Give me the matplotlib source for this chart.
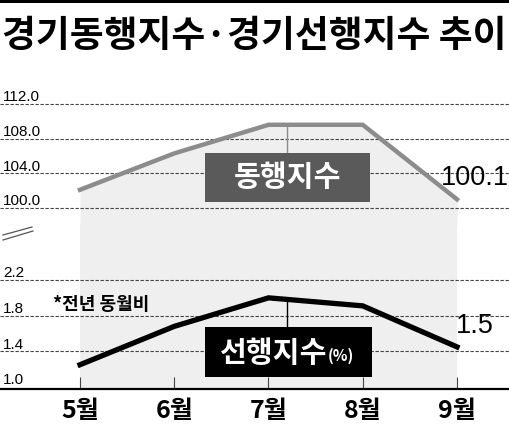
import numpy as np
import matplotlib
matplotlib.use("Agg")
import matplotlib.pyplot as plt
from matplotlib.patches import Rectangle
from matplotlib.lines import Line2D

# 데이터
months = ['5월', '6월', '7월', '8월', '9월']
coincident = [102.1, 106.3, 109.6, 109.6, 101.0]   # 경기동행지수
leading = [1.25, 1.68, 2.0, 1.91, 1.45]             # 경기선행지수(전년 동월비, %)
top_ticks = [100.0, 104.0, 108.0, 112.0]
bottom_ticks = [1.0, 1.4, 1.8, 2.2]
end_labels = ['100.1', '1.5']

W, H = 510, 428
KR = ['Noto Sans CJK KR', 'DejaVu Sans']
NUM = ['Liberation Sans', 'DejaVu Sans']
GRAY = '#8c8c8c'
BOXGRAY = '#5a5a5a'
FILL = '#efefef'


def fx(x):
    return x / W


def fy(y):
    return 1 - y / H


fig = plt.figure(figsize=(W / 100, H / 100), dpi=100)
fig.patch.set_facecolor('white')

x = np.arange(len(months))
xlim = (-80 / 94.25, (W - 80) / 94.25)

ax1 = fig.add_axes([0, fy(225.3), 1, 134.3 / H])
ax2 = fig.add_axes([0, fy(389), 1, (389 - 225.3) / H])
for ax in (ax1, ax2):
    ax.set_facecolor('none')
    ax.set_xlim(*xlim)
    for s in ax.spines.values():
        s.set_visible(False)
    ax.set_yticks([])
ax1.set_xticks([])

ax1.set_ylim(98, 113.5)
ax2.set_ylim(0.978, 0.978 + (389 - 225.3) / 89.2)

# 배경 음영
ax1.fill_between(x, coincident, 98, color=FILL, lw=0, zorder=0)
ax2.axvspan(x[0], x[-1], color=FILL, lw=0, zorder=0)

# 점선 눈금선과 값
for v in top_ticks:
    ax1.axhline(v, color='#444444', lw=0.8, ls=(0, (3, 1.5)), zorder=1)
    ax1.annotate(f'{v:.1f}', (0.006, v), xycoords=ax1.get_yaxis_transform(),
                 xytext=(0, 2), textcoords='offset points', va='baseline',
                 ha='left', fontsize=11, family=NUM, color='black')
for v in bottom_ticks:
    if v > 1.0:
        ax2.axhline(v, color='#444444', lw=0.8, ls=(0, (3, 1.5)), zorder=1)
    ax2.annotate(f'{v:.1f}', (0.006, v), xycoords=ax2.get_yaxis_transform(),
                 xytext=(0, 2), textcoords='offset points', va='baseline',
                 ha='left', fontsize=11, family=NUM, color='black')

# 선
ax1.plot(x, coincident, color=GRAY, lw=3.2, solid_joinstyle='miter', zorder=3)
ax2.plot(x, leading, color='black', lw=3.8, solid_joinstyle='miter', zorder=3)

# 상자 연결선
ax1.vlines(2.2, 106.35, np.interp(2.2, x, coincident), color=GRAY, lw=1, zorder=2)
ax2.vlines(2.2, 1.67, np.interp(2.2, x, leading), color='black', lw=1, zorder=2)

# x축
ax2.spines['bottom'].set_visible(True)
ax2.spines['bottom'].set_linewidth(1.6)
ax2.spines['bottom'].set_color('black')
ax2.set_xticks(x)
ax2.set_xticklabels(months, family=KR, fontsize=18, fontweight='bold')
ax2.tick_params(axis='x', direction='in', length=9, width=0.8, color='#444444', pad=7)

# 상단 굵은 선과 제목
fig.add_artist(Rectangle((0, fy(3)), 1, 3 / H, transform=fig.transFigure,
                         color='black', lw=0))
fig.text(fx(254), fy(36), '경기동행지수·경기선행지수 추이', ha='center', va='center',
         fontsize=26.5, fontweight='bold', family=KR, color='black')

# 축 생략 표시
for (x0, y0, x1, y1) in [(3, 235, 32, 227), (3, 240, 33, 231)]:
    fig.add_artist(Line2D([fx(x0), fx(x1)], [fy(y0), fy(y1)], transform=fig.transFigure,
                          color='#555555', lw=0.9))

# 이름 상자
fig.add_artist(Rectangle((fx(205), fy(202)), fx(370) - fx(205), (202 - 153) / H,
                         transform=fig.transFigure, color=BOXGRAY, lw=0))
fig.text(fx(287.5), fy(177), '동행지수', ha='center', va='center', fontsize=21,
         fontweight='bold', family=KR, color='white')
fig.add_artist(Rectangle((fx(205), fy(377)), fx(372) - fx(205), (377 - 327) / H,
                         transform=fig.transFigure, color='black', lw=0))
fig.text(fx(327), fy(353), '선행지수', ha='right', va='center', fontsize=21,
         fontweight='bold', family=KR, color='white')
fig.text(fx(328), fy(356), '(%)', ha='left', va='center', fontsize=11,
         fontweight='bold', family=KR, color='white')

fig.text(fx(53), fy(305), '*전년 동월비', ha='left', va='center', fontsize=13,
         fontweight='bold', family=KR, color='black')

# 마지막 값
fig.text(fx(441), fy(178), end_labels[0], ha='left', va='center', fontsize=19.5,
         family=NUM, color='black')
fig.text(fx(456), fy(326), end_labels[1], ha='left', va='center', fontsize=19.5,
         family=NUM, color='black')

fig.savefig('out.png', dpi=100, facecolor='white')
